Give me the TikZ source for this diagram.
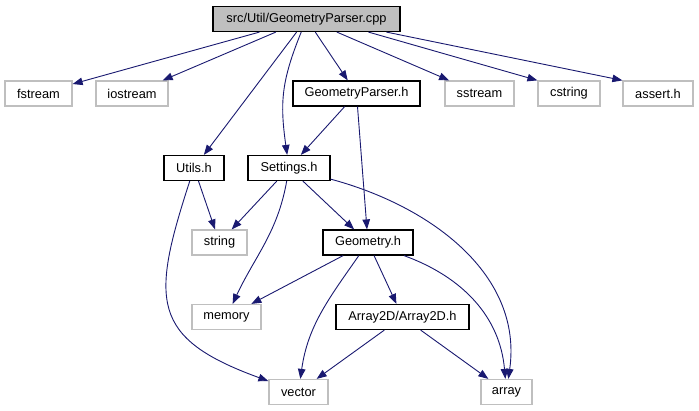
\documentclass[tikz,border=0pt]{standalone}
\usepackage{fontspec}
\setmainfont{Liberation Sans}
\usetikzlibrary{arrows.meta}

\definecolor{edgeblue}{HTML}{191970}
\definecolor{extgray}{HTML}{BFBFBF}

\begin{document}
\begin{tikzpicture}[x=1pt, y=-1pt,
    header/.style={rectangle, draw=black, fill=white, line width=1.2pt, minimum height=25pt, inner sep=0pt, font=\fontsize{12.8}{14}\selectfont},
    syshdr/.style={header, draw=extgray},
    rootfile/.style={header, fill=extgray},
    dep/.style={draw=edgeblue, line width=0.9pt, -{Triangle[length=10pt, width=7.5pt]}}
]
    \useasboundingbox (0,0) rectangle (699,411);

    \node[rootfile, minimum width=187pt] (root) at (306.5,19) {src/Util/GeometryParser.cpp};

    \node[syshdr, minimum width=67pt] (fstream) at (38.5,93.5) {fstream};
    \node[syshdr, minimum width=72pt] (iostream) at (132,93.5) {iostream};
    \node[header, minimum width=127pt] (gparser) at (356.5,93.5) {GeometryParser.h};
    \node[syshdr, minimum width=69pt] (sstream) at (479.5,93.5) {sstream};
    \node[syshdr, minimum width=62pt] (cstring) at (569,93.5) {cstring};
    \node[syshdr, minimum width=70pt] (assert) at (658,93.5) {assert.h};

    \node[header, minimum width=60pt] (utils) at (194,168) {Utils.h};
    \node[header, minimum width=82pt] (settings) at (289,168) {Settings.h};

    \node[syshdr, minimum width=55pt] (string) at (219.5,242.5) {string};
    \node[header, minimum width=90pt] (geometry) at (368,242.5) {Geometry.h};

    \node[syshdr, minimum width=69pt] (memory) at (226.5,317) {memory};
    \node[header, minimum width=133pt] (array2d) at (402.5,317) {Array2D/Array2D.h};

    \node[syshdr, minimum width=59pt] (vector) at (298.5,392) {vector};
    \node[syshdr, minimum width=51pt] (array) at (506.5,392) {array};

    % Connections
    \draw[dep] (root) -- (fstream);
    \draw[dep] (root) -- (iostream);
    \draw[dep] (root) -- (utils);
    \draw[dep] (root) to[out=-112, in=98, looseness=1.1] (settings);
    \draw[dep] (root) -- (gparser);
    \draw[dep] (root) -- (sstream);
    \draw[dep] ([xshift=62pt]root.south) -- (cstring.north west);
    \draw[dep] ([xshift=80pt]root.south) -- (assert.north west);

    \draw[dep] (gparser) -- (settings);
    \draw[dep] (gparser) -- (geometry);

    \draw[dep] (utils) -- (string);
    \draw[dep] (utils) to[out=-108, in=160, looseness=1.5] (vector);

    \draw[dep] (settings) -- (string);
    \draw[dep] (settings) to[out=-100, in=65] (memory);
    \draw[dep] (settings) -- (geometry);
    \draw[dep] (settings) to[out=-15, in=82] (array);

    \draw[dep] (geometry) -- (memory);
    \draw[dep] (geometry) to[out=-125, in=82] (vector);
    \draw[dep] (geometry) -- (array2d);
    \draw[dep] (geometry) to[out=-20, in=95] (array);

    \draw[dep] (array2d) -- (vector);
    \draw[dep] (array2d) -- (array);
\end{tikzpicture}
\end{document}
